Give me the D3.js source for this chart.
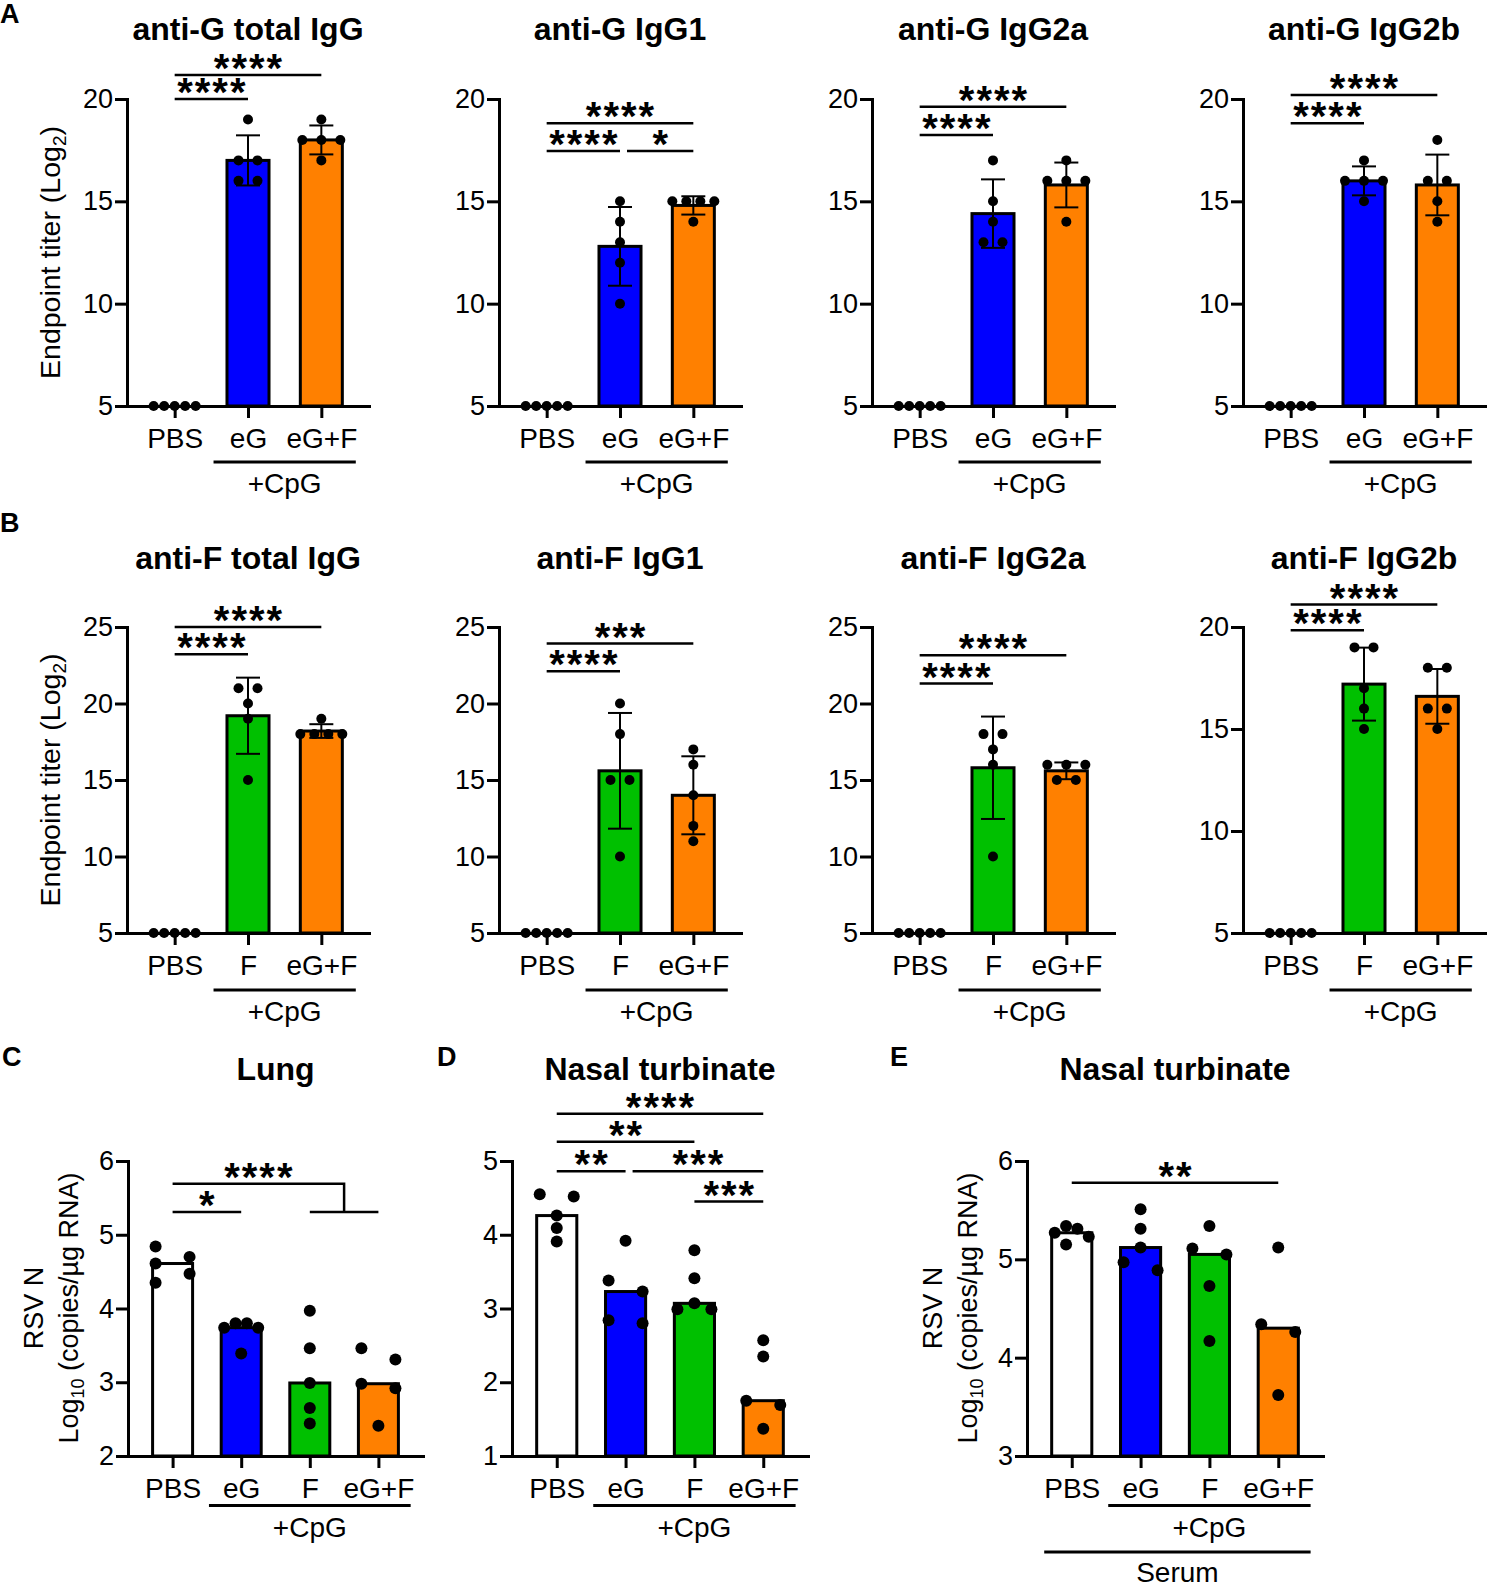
<!DOCTYPE html>
<html>
<head>
<meta charset="utf-8">
<script src="https://cdn.jsdelivr.net/npm/d3@7"></script>
<style>
  body { margin: 0; background: #fff; }
  svg text { font-family: "Liberation Sans", Arial, Helvetica, sans-serif; fill: #000; }
</style>
</head>
<body>
<svg id="fig" width="1491" height="1589"></svg>
<script>
// groups + colours
const groupsG = ['PBS', 'eG', 'eG+F'];
const groupsF = ['PBS', 'F', 'eG+F'];
const groupsV = ['PBS', 'eG', 'F', 'eG+F'];
const fillsG = ['#ffffff', '#0000ff', '#ff8000'];
const fillsF = ['#ffffff', '#00c000', '#ff8000'];
const fillsV = ['#ffffff', '#0000ff', '#00c000', '#ff8000'];

// endpoint titers (Log2), one value per mouse
const gTotal = [[5, 5, 5, 5, 5], [19, 17, 17, 16, 16], [19, 18, 18, 18, 17]];
const gIgG1  = [[5, 5, 5, 5, 5], [15, 14, 13, 12, 10], [15, 15, 15, 15, 14]];
const gIgG2a = [[5, 5, 5, 5, 5], [17, 15, 14, 13, 13], [17, 16, 16, 16, 14]];
const gIgG2b = [[5, 5, 5, 5, 5], [17, 16, 16, 16, 15], [18, 16, 16, 15, 14]];
const fTotal = [[5, 5, 5, 5, 5], [21, 21, 20, 19, 15], [19, 18, 18, 18, 18]];
const fIgG1  = [[5, 5, 5, 5, 5], [20, 18, 15, 15, 10], [17, 16, 14, 12, 11]];
const fIgG2a = [[5, 5, 5, 5, 5], [18, 18, 17, 16, 10], [16, 16, 16, 15, 15]];
const fIgG2b = [[5, 5, 5, 5, 5], [19, 19, 17, 16, 15], [18, 18, 16, 16, 15]];

// RSV N, Log10 copies/ug RNA
const lungN  = [[4.84, 4.70, 4.61, 4.47, 4.35], [3.80, 3.80, 3.74, 3.74, 3.39], [3.97, 3.46, 2.99, 2.65, 2.44], [3.46, 3.31, 2.98, 2.92, 2.41]];
const nasalN = [[4.55, 4.52, 4.26, 4.09, 3.91], [3.92, 3.38, 3.23, 2.84, 2.80], [3.79, 3.41, 3.07, 2.99, 2.99], [2.57, 2.35, 1.75, 1.69, 1.37]];
const serumN = [[5.34, 5.31, 5.27, 5.23, 5.15], [5.51, 5.31, 5.12, 4.97, 4.89], [5.34, 5.11, 5.05, 4.73, 4.17], [5.12, 4.34, 4.26, 3.62]];

// significance brackets (height in axis units)
const sigA = [
  [{from: 0, to: 1, label: '****', at: 20.0}, {from: 0, to: 2, label: '****', at: 21.17}],
  [{from: 0, to: 1, label: '****', at: 17.46}, {from: 1, to: 2, label: '*', at: 17.46}, {from: 0, to: 2, label: '****', at: 18.81}],
  [{from: 0, to: 1, label: '****', at: 18.24}, {from: 0, to: 2, label: '****', at: 19.62}],
  [{from: 0, to: 1, label: '****', at: 18.81}, {from: 0, to: 2, label: '****', at: 20.2}]
];
const sigB = [
  [{from: 0, to: 1, label: '****', at: 23.22}, {from: 0, to: 2, label: '****', at: 25.0}],
  [{from: 0, to: 1, label: '****', at: 22.11}, {from: 0, to: 2, label: '***', at: 23.92}],
  [{from: 0, to: 1, label: '****', at: 21.3}, {from: 0, to: 2, label: '****', at: 23.15}],
  [{from: 0, to: 1, label: '****', at: 19.84}, {from: 0, to: 2, label: '****', at: 21.1}]
];
const sigLung  = [{from: 0, to: 1, label: '*', at: 5.31}, {from: 0, to: [2, 3], label: '****', at: 5.69, sub: 5.31}];
const sigNasal = [
  {from: 0, to: 3, label: '****', at: 5.64}, {from: 0, to: 2, label: '**', at: 5.26},
  {from: 0, to: 1, label: '**', at: 4.86}, {from: 1, to: 3, label: '***', at: 4.86},
  {from: 2, to: 3, label: '***', at: 4.45}
];
const sigSerum = [{from: 0, to: 3, label: '**', at: 5.78}];

const titlesA = ['anti-G total IgG', 'anti-G IgG1', 'anti-G IgG2a', 'anti-G IgG2b'];
const titlesB = ['anti-F total IgG', 'anti-F IgG1', 'anti-F IgG2a', 'anti-F IgG2b'];

const svg = d3.select('#fig');

// spread overlapping dots sideways (rough Prism-like scatter)
function swarm(vals, y, r, step, maxSpread) {
  const pts = vals.map(v => ({v, py: y(v)})).sort((a, b) => a.py - b.py);
  const out = [];
  let cluster = [];
  const flush = () => {
    const placed = [];
    cluster.forEach(p => {
      for (let k = 0; k < 40; k++) {
        const dx = k === 0 ? 0 : (k % 2 ? 1 : -1) * Math.ceil(k / 2) * step;
        if (placed.every(q => Math.hypot(q.dx - dx, q.py - p.py) >= 2 * r)) { p.dx = dx; placed.push(p); break; }
      }
    });
    const lo = d3.min(placed, d => d.dx), hi = d3.max(placed, d => d.dx);
    const mid = (lo + hi) / 2, ext = hi - lo;
    const k = ext > maxSpread ? maxSpread / ext : 1;
    placed.forEach(p => { p.dx = (p.dx - mid) * k; out.push(p); });
    cluster = [];
  };
  pts.forEach(p => {
    if (cluster.length && p.py - cluster[cluster.length - 1].py >= 2 * r) flush();
    cluster.push(p);
  });
  if (cluster.length) flush();
  return out;
}

function stars(g, cx, yLine, label) {
  g.append('text')
    .attr('x', cx + 1).attr('y', yLine + 7)
    .attr('text-anchor', 'middle')
    .attr('font-size', 40).attr('font-weight', 'bold')
    .attr('letter-spacing', 2)
    .text(label);
}

function drawPanel(o) {
  const g = svg.append('g');
  const x = d3.scalePoint().domain(o.cats).range([o.left, o.right]).padding(0.65);
  const y = d3.scaleLinear().domain(o.domain).range([o.bottom, o.top]);
  const step = x.step(), bw = step * o.barFrac;
  const base = o.domain[0];
  const heights = o.data.map(v => o.stat === 'median' ? d3.median(v) : d3.mean(v));

  // bars
  g.selectAll('rect.bar').data(o.data).join('rect')
    .attr('class', 'bar')
    .attr('x', (d, i) => x(o.cats[i]) - bw / 2)
    .attr('y', (d, i) => y(heights[i]))
    .attr('width', bw)
    .attr('height', (d, i) => Math.max(0, y(base) - y(heights[i])))
    .attr('fill', (d, i) => o.fills[i])
    .attr('stroke', '#000').attr('stroke-width', 3)
    .attr('display', (d, i) => heights[i] > base ? null : 'none');

  // axes
  const ya = g.append('g').attr('transform', `translate(${o.left},0)`)
    .call(d3.axisLeft(y).tickValues(o.ticks).tickFormat(d3.format('d'))
      .tickSize(12).tickSizeOuter(0).tickPadding(2));
  const xa = g.append('g').attr('transform', `translate(0,${o.bottom})`)
    .call(d3.axisBottom(x).tickSize(12).tickSizeOuter(0).tickPadding(10));
  [ya, xa].forEach(a => {
    a.attr('font-family', null).attr('font-size', 28);
    a.select('.domain').attr('stroke-width', 3).attr('stroke-linecap', 'square');
    a.selectAll('.tick line').attr('stroke-width', 3);
  });
  ya.attr('font-size', 27);

  // error bars (mean +/- SD)
  if (o.errorBars) {
    o.data.forEach((vals, i) => {
      const m = heights[i], sd = d3.deviation(vals) || 0;
      if (sd === 0) return;
      const cx = x(o.cats[i]);
      const eb = g.append('g').attr('stroke', '#000').attr('stroke-width', 2);
      eb.append('line').attr('x1', cx).attr('x2', cx).attr('y1', y(m - sd)).attr('y2', y(m + sd));
      [m - sd, m + sd].forEach(v => eb.append('line')
        .attr('x1', cx - 12).attr('x2', cx + 12).attr('y1', y(v)).attr('y2', y(v)));
    });
  }

  // individual mice
  o.data.forEach((vals, i) => {
    const cx = x(o.cats[i]);
    g.append('g').selectAll('circle')
      .data(swarm(vals, y, o.r, o.step, o.spread))
      .join('circle')
      .attr('cx', d => cx + d.dx).attr('cy', d => d.py).attr('r', o.r).attr('fill', '#000');
  });

  // significance brackets
  const br = g.append('g');
  o.sigs.forEach(s => {
    if (Array.isArray(s.to)) {
      const xa0 = x(o.cats[s.from]);
      const xs0 = x(o.cats[s.to[0]]), xs1 = x(o.cats[s.to[1]]);
      const xm = (xs0 + xs1) / 2;
      br.append('path')
        .attr('d', `M${xa0},${y(s.at)}H${xm}V${y(s.sub)}M${xs0},${y(s.sub)}H${xs1}`)
        .attr('fill', 'none').attr('stroke', '#000').attr('stroke-width', 2.5);
      stars(br, (xa0 + xm) / 2, y(s.at), s.label);
      return;
    }
    let x1 = x(o.cats[s.from]);
    const x2 = x(o.cats[s.to]);
    if (o.sigs.some(t => t !== s && t.at === s.at && t.to === s.from)) x1 += 7;
    br.append('line').attr('x1', x1).attr('x2', x2).attr('y1', y(s.at)).attr('y2', y(s.at))
      .attr('stroke', '#000').attr('stroke-width', 2.5);
    stars(br, (x1 + x2) / 2, y(s.at), s.label);
  });

  // title
  g.append('text').attr('x', (o.left + o.right) / 2).attr('y', o.titleY)
    .attr('text-anchor', 'middle').attr('font-size', 32).attr('font-weight', 'bold').text(o.title);

  // +CpG grouping line
  const cx0 = x(o.cats[1]) - 0.47 * step, cx1 = x(o.cats[o.cats.length - 1]) + 0.47 * step;
  g.append('line').attr('x1', cx0).attr('x2', cx1).attr('y1', o.cpgY).attr('y2', o.cpgY)
    .attr('stroke', '#000').attr('stroke-width', 3);
  g.append('text').attr('x', (cx0 + cx1) / 2).attr('y', o.cpgTextY)
    .attr('text-anchor', 'middle').attr('font-size', 28).text('+CpG');
  if (o.serum) {
    const sx0 = x(o.cats[0]) - 0.4 * step;
    g.append('line').attr('x1', sx0).attr('x2', cx1).attr('y1', o.serumY).attr('y2', o.serumY)
      .attr('stroke', '#000').attr('stroke-width', 3);
    g.append('text').attr('x', (sx0 + cx1) / 2).attr('y', o.serumTextY)
      .attr('text-anchor', 'middle').attr('font-size', 28).text('Serum');
  }
  return {x, y};
}

function titerLabel(cx, cy) {
  const t = svg.append('text').attr('transform', `translate(${cx},${cy}) rotate(-90)`)
    .attr('text-anchor', 'middle').attr('font-size', 28.5);
  t.append('tspan').text('Endpoint titer (Log');
  t.append('tspan').attr('font-size', 19).attr('dy', 6).text('2');
  t.append('tspan').attr('dy', -6).text(')');
}

function rsvLabel(x1, x2, cy) {
  svg.append('text').attr('transform', `translate(${x1},${cy}) rotate(-90)`)
    .attr('text-anchor', 'middle').attr('font-size', 27).text('RSV N');
  const t = svg.append('text').attr('transform', `translate(${x2},${cy}) rotate(-90)`)
    .attr('text-anchor', 'middle').attr('font-size', 27);
  t.append('tspan').text('Log');
  t.append('tspan').attr('font-size', 18).attr('dy', 6).text('10');
  t.append('tspan').attr('dy', -6).text(' (copies/\u00b5g RNA)');
}

function letter(txt, x, y) {
  svg.append('text').attr('x', x).attr('y', y).attr('font-size', 27).attr('font-weight', 'bold').text(txt);
}

// layout
const COLS = [127, 499, 872, 1243], PW = 242;

[gTotal, gIgG1, gIgG2a, gIgG2b].forEach((data, c) => drawPanel({
  cats: groupsG, fills: fillsG, data, stat: 'mean', errorBars: true,
  left: COLS[c], right: COLS[c] + PW, top: 99, bottom: 406,
  domain: [5, 20], ticks: [5, 10, 15, 20],
  barFrac: 0.573, r: 5, step: 19, spread: 42,
  sigs: sigA[c], title: titlesA[c], titleY: 40, cpgY: 462, cpgTextY: 493
}));

[fTotal, fIgG1, fIgG2a, fIgG2b].forEach((data, c) => drawPanel({
  cats: groupsF, fills: fillsF, data, stat: 'mean', errorBars: true,
  left: COLS[c], right: COLS[c] + PW, top: 627, bottom: 933,
  domain: c === 3 ? [5, 20] : [5, 25], ticks: c === 3 ? [5, 10, 15, 20] : [5, 10, 15, 20, 25],
  barFrac: 0.573, r: 5, step: 19, spread: 42,
  sigs: sigB[c], title: titlesB[c], titleY: 569, cpgY: 990, cpgTextY: 1021
}));

const lower = {
  cats: groupsV, fills: fillsV, stat: 'median', errorBars: false,
  top: 1161, bottom: 1456, barFrac: 0.583, r: 6, step: 34, spread: 34,
  titleY: 1080, cpgY: 1505.5, cpgTextY: 1537
};
drawPanel(Object.assign({}, lower, {
  data: lungN, left: 128, right: 423, domain: [2, 6], ticks: [2, 3, 4, 5, 6],
  sigs: sigLung, title: 'Lung'
}));
drawPanel(Object.assign({}, lower, {
  data: nasalN, left: 512, right: 808, domain: [1, 5], ticks: [1, 2, 3, 4, 5],
  sigs: sigNasal, title: 'Nasal turbinate'
}));
drawPanel(Object.assign({}, lower, {
  data: serumN, left: 1027, right: 1323, domain: [3, 6], ticks: [3, 4, 5, 6],
  sigs: sigSerum, title: 'Nasal turbinate', serum: true, serumY: 1552, serumTextY: 1582
}));

titerLabel(60, 252.5);
titerLabel(60, 780);
rsvLabel(43, 78, 1308);
rsvLabel(942, 977, 1308);

letter('A', 0, 23);
letter('B', 0, 532);
letter('C', 2, 1066);
letter('D', 437, 1066);
letter('E', 890, 1066);
</script>
</body>
</html>
